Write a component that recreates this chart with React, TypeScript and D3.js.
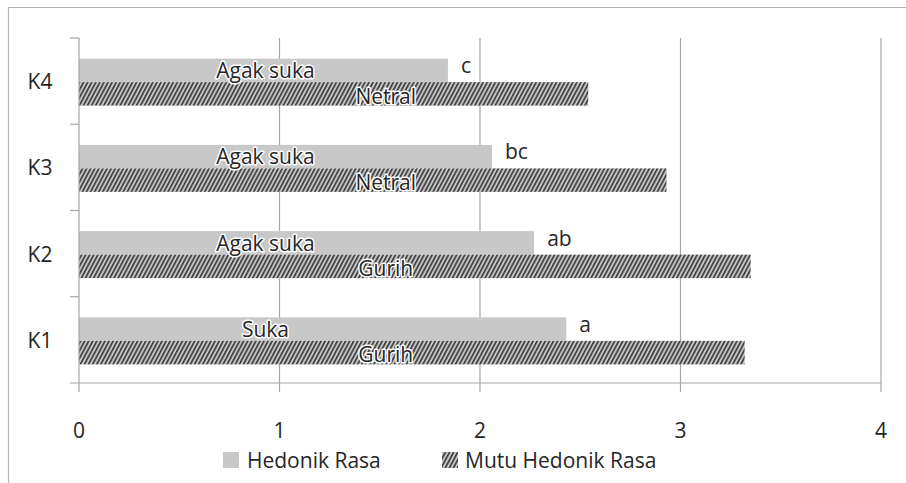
import * as d3 from "d3";

const categories = ["K1", "K2", "K3", "K4"];
const hedonikRasa = [2.43, 2.27, 2.06, 1.84];
const mutuHedonikRasa = [3.32, 3.35, 2.93, 2.54];
const hedonikLabels = ["Suka", "Agak suka", "Agak suka", "Agak suka"];
const mutuLabels = ["Gurih", "Gurih", "Netral", "Netral"];
const notasi = ["a", "ab", "bc", "c"];
const xTicks = [0, 1, 2, 3, 4];

const W = 906, H = 483;
const margin = { top: 38, right: 25, bottom: 100, left: 79 };
const FONT = "'Open Sans', sans-serif";

export default function App() {
  const x = d3.scaleLinear().domain([0, 4]).range([margin.left, W - margin.right]);
  const y = d3.scaleBand<string>()
    .domain([...categories].reverse())
    .range([margin.top, H - margin.bottom]);
  const bw = 23.5;
  const x0 = x(0);
  const yBottom = H - margin.bottom;

  const halo = { paintOrder: "stroke" as const, stroke: "#fff", strokeWidth: 3, strokeLinejoin: "round" as const };

  return (
    <svg width={W} height={H} style={{ position: "absolute", left: 0, top: 0 }} fontFamily={FONT}>
      <defs>
        <pattern id="hatch" width="3.6" height="10" patternUnits="userSpaceOnUse" patternTransform="rotate(28)">
          <rect width="3.6" height="10" fill="#c4c4c4" />
          <line x1="0.8" y1="0" x2="0.8" y2="10" stroke="#2e2e2e" strokeWidth="1.5" />
        </pattern>
      </defs>
      <rect width={W} height={H} fill="#fff" />
      <path d={`M8.5,${H} V7.5 H${W}`} fill="none" stroke="#b3b3b3" strokeWidth={1.2} />

      {/* gridlines */}
      {xTicks.slice(1).map(t => (
        <line key={t} x1={x(t)} x2={x(t)} y1={margin.top} y2={yBottom} stroke="#a6a6a6" strokeWidth={1.2} />
      ))}

      {/* bars */}
      {categories.map((c, i) => {
        const cy = y(c)! + y.bandwidth() / 2 + 1;
        return (
          <g key={c}>
            <rect x={x0} y={cy - bw} width={x(hedonikRasa[i]) - x0} height={bw} fill="#c8c8c8" />
            <rect x={x0} y={cy} width={x(mutuHedonikRasa[i]) - x0} height={bw} fill="url(#hatch)" />
          </g>
        );
      })}

      {/* axes */}
      <line x1={x0} x2={x0} y1={margin.top} y2={yBottom + 9} stroke="#a6a6a6" strokeWidth={1.2} />
      <line x1={x0 - 9} x2={x(4)} y1={yBottom} y2={yBottom} stroke="#a6a6a6" strokeWidth={1.2} />
      {y.domain().map(c => (
        <line key={c} x1={x0 - 9} x2={x0} y1={y(c)!} y2={y(c)!} stroke="#a6a6a6" strokeWidth={1.2} />
      ))}
      {xTicks.slice(1).map(t => (
        <line key={t} x1={x(t)} x2={x(t)} y1={yBottom} y2={yBottom + 9} stroke="#a6a6a6" strokeWidth={1.2} />
      ))}
      {xTicks.map(t => (
        <text key={t} x={x(t)} y={438} textAnchor="middle" fontSize={21} fill="#262626">{t}</text>
      ))}
      {categories.map(c => (
        <text key={c} x={40} y={y(c)! + y.bandwidth() / 2 + 8} textAnchor="middle" fontSize={21} fill="#262626">{c}</text>
      ))}

      {/* labels */}
      {categories.map((c, i) => {
        const cy = y(c)! + y.bandwidth() / 2 + 1;
        return (
          <g key={c} fontSize={21} fill="#262626">
            <text x={x(0.93)} y={cy - 4} textAnchor="middle" {...halo}>{hedonikLabels[i]}</text>
            <text x={x(1.53)} y={cy + bw - 2} textAnchor="middle" {...halo}>{mutuLabels[i]}</text>
            <text x={x(hedonikRasa[i]) + 13} y={cy - 9}>{notasi[i]}</text>
          </g>
        );
      })}

      {/* legend */}
      <g fontSize={21} fill="#262626">
        <rect x={223} y={452} width={16} height={16} fill="#c8c8c8" />
        <text x={247} y={468}>Hedonik Rasa</text>
        <rect x={442} y={452} width={16} height={16} fill="url(#hatch)" />
        <text x={465} y={468}>Mutu Hedonik Rasa</text>
      </g>
    </svg>
  );
}
